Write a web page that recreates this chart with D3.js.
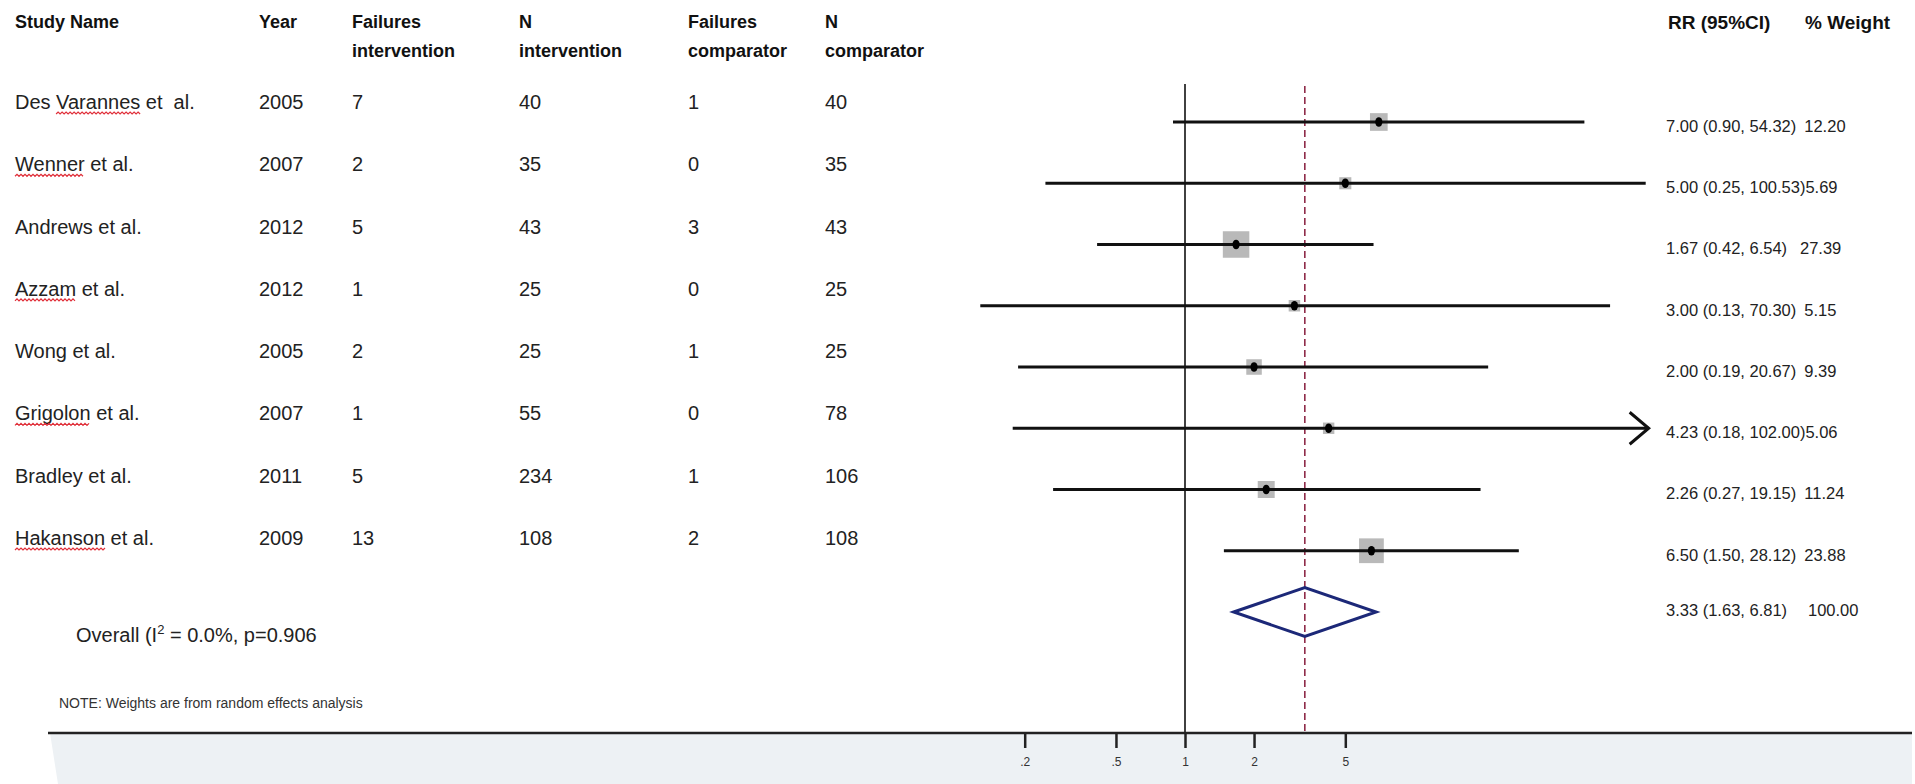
<!DOCTYPE html>
<html><head><meta charset="utf-8">
<script src="https://cdn.jsdelivr.net/npm/d3@7"></script>
<style>
html,body{margin:0;padding:0;background:#fff;}
svg{display:block;font-family:"Liberation Sans", Arial, sans-serif;}
text{white-space:pre;}
</style></head><body>
<svg id="chart" width="1915" height="784"></svg>
<script>
// ---- data ----
const studies = ["Des Varannes et  al.", "Wenner et al.", "Andrews et al.", "Azzam et al.", "Wong et al.", "Grigolon et al.", "Bradley et al.", "Hakanson et al."];
const flaggedWords = ["Varannes", "Wenner", null, "Azzam", null, "Grigolon", null, "Hakanson"];
const years = [2005, 2007, 2012, 2012, 2005, 2007, 2011, 2009];
const failuresIntervention = [7, 2, 5, 1, 2, 1, 5, 13];
const nIntervention = [40, 35, 43, 25, 25, 55, 234, 108];
const failuresComparator = [1, 0, 3, 0, 1, 0, 1, 2];
const nComparator = [40, 35, 43, 25, 25, 78, 106, 108];
const rr = [7.00, 5.00, 1.67, 3.00, 2.00, 4.23, 2.26, 6.50];
const ciLow = [0.90, 0.25, 0.42, 0.13, 0.19, 0.18, 0.27, 1.50];
const ciHigh = [54.32, 100.53, 6.54, 70.30, 20.67, 102.00, 19.15, 28.12];
const weights = [12.20, 5.69, 27.39, 5.15, 9.39, 5.06, 11.24, 23.88];
const overallEstimate = [3.33, 1.63, 6.81]; // RR, low, high
const overallWeight = 100.00;
const overallLabel = ["Overall (I", "2", " = 0.0%, p=0.906"];
const noteText = "NOTE: Weights are from random effects analysis";
const tickValues = [0.2, 0.5, 1, 2, 5];
const tickLabels = [".2", ".5", "1", "2", "5"];
const headerLines = [["Study Name"], ["Year"], ["Failures", "intervention"], ["N", "intervention"], ["Failures", "comparator"], ["N", "comparator"]];
const rightHeaders = ["RR (95%CI)", "% Weight"];
const axisClipMax = 101;

// ---- layout ----
const svg = d3.select("#chart");
const x = d3.scaleLog().domain([0.2, 5]).range([1024.7, 1345.3]);
const y = d3.scaleLinear().domain([0, 8]).range([122, 612]);
const yText = d3.scaleLinear().domain([0, 7]).range([102, 538]);
const boxSide = d3.scaleSqrt().domain([0, 27.39]).range([0, 26.5]);
const colX = [15, 259, 352, 519, 688, 825];
const axisY = 733;
const f2 = d3.format(".2f");
const textColor = "#222";

// background band below axis
svg.append("path")
  .attr("d", `M50,${axisY} L1912,${axisY} L1912,784 L58,784 Z`)
  .attr("fill", "#edf1f4");

// headers
headerLines.forEach((lines, c) => {
  lines.forEach((t, k) => {
    svg.append("text").attr("x", colX[c]).attr("y", 22 + k * 29).attr("dy", "0.35em")
      .attr("font-size", 18).attr("font-weight", "bold").attr("fill", "#111").text(t);
  });
});
svg.append("text").attr("x", 1668).attr("y", 22).attr("dy", "0.35em")
  .attr("font-size", 19).attr("font-weight", "bold").attr("fill", "#111").text(rightHeaders[0]);
svg.append("text").attr("x", 1805).attr("y", 22).attr("dy", "0.35em")
  .attr("font-size", 19).attr("font-weight", "bold").attr("fill", "#111").text(rightHeaders[1]);

// left table rows
const cols = [studies, years, failuresIntervention, nIntervention, failuresComparator, nComparator];
studies.forEach((s, i) => {
  cols.forEach((arr, c) => {
    const t = svg.append("text").attr("x", colX[c]).attr("y", yText(i)).attr("dy", "0.35em")
      .attr("font-size", 20).attr("fill", textColor).text(arr[i]);
    if (c === 0 && flaggedWords[i]) {
      const w = flaggedWords[i];
      const idx = s.indexOf(w);
      const node = t.node();
      const x0 = node.getStartPositionOfChar(idx).x;
      const x1 = node.getEndPositionOfChar(idx + w.length - 1).x;
      const yy = yText(i) + 12;
      let d = `M${x0},${yy}`;
      let up = true;
      for (let px = x0 + 2; px <= x1; px += 2) { d += ` L${px},${yy + (up ? -2 : 0)}`; up = !up; }
      svg.append("path").attr("d", d).attr("fill", "none").attr("stroke", "#e0303a").attr("stroke-width", 1.2);
    }
  });
});

// overall label
const ol = svg.append("text").attr("x", 76).attr("y", 635).attr("dy", "0.35em")
  .attr("font-size", 20).attr("fill", textColor);
ol.append("tspan").text(overallLabel[0]);
ol.append("tspan").attr("font-size", 13).attr("dy", "-0.6em").text(overallLabel[1]);
ol.append("tspan").attr("dy", "0.4em").text(overallLabel[2]);

// note
svg.append("text").attr("x", 59).attr("y", 703).attr("dy", "0.35em")
  .attr("font-size", 14).attr("fill", "#333").text(noteText);

// reference lines
svg.append("line").attr("x1", x(1)).attr("x2", x(1)).attr("y1", 84).attr("y2", axisY)
  .attr("stroke", "#111").attr("stroke-width", 1.6);
svg.append("line").attr("x1", x(overallEstimate[0])).attr("x2", x(overallEstimate[0])).attr("y1", 86).attr("y2", axisY)
  .attr("stroke", "#8e2a48").attr("stroke-width", 1.6).attr("stroke-dasharray", "7,4");

// boxes
svg.append("g").selectAll("rect").data(rr).join("rect")
  .attr("x", (d, i) => x(d) - boxSide(weights[i]) / 2)
  .attr("y", (d, i) => y(i) - boxSide(weights[i]) / 2)
  .attr("width", (d, i) => boxSide(weights[i]))
  .attr("height", (d, i) => boxSide(weights[i]))
  .attr("fill", "#b9b9b9");

// CI lines
svg.append("g").selectAll("line").data(rr).join("line")
  .attr("x1", (d, i) => x(ciLow[i]))
  .attr("x2", (d, i) => x(Math.min(ciHigh[i], axisClipMax)))
  .attr("y1", (d, i) => y(i)).attr("y2", (d, i) => y(i))
  .attr("stroke", "#111").attr("stroke-width", 3).attr("stroke-linecap", "square");

// arrows for truncated CIs
rr.forEach((d, i) => {
  if (ciHigh[i] > axisClipMax) {
    const xt = x(axisClipMax) + 4, yy = y(i);
    svg.append("path").attr("d", `M${xt - 19},${yy - 16} L${xt},${yy} L${xt - 19},${yy + 16}`)
      .attr("fill", "none").attr("stroke", "#111").attr("stroke-width", 3);
    svg.append("line").attr("x1", x(axisClipMax)).attr("x2", xt).attr("y1", yy).attr("y2", yy)
      .attr("stroke", "#111").attr("stroke-width", 3);
  }
});

// points
svg.append("g").selectAll("ellipse").data(rr).join("ellipse")
  .attr("cx", d => x(d)).attr("cy", (d, i) => y(i))
  .attr("rx", 3.6).attr("ry", 4.8).attr("fill", "#000");

// overall diamond
const yo = y(8);
svg.append("path")
  .attr("d", `M${x(overallEstimate[1])},${yo} L${x(overallEstimate[0])},${yo - 24.5} L${x(overallEstimate[2])},${yo} L${x(overallEstimate[0])},${yo + 24.5} Z`)
  .attr("fill", "none").attr("stroke", "#1c2878").attr("stroke-width", 3).attr("stroke-linejoin", "miter");

// right text
const rrX = 1666, weightCol = 1800, rFont = 16.5;
rr.forEach((d, i) => {
  const t = svg.append("text").attr("x", rrX).attr("y", y(i) + 4).attr("dy", "0.35em")
    .attr("font-size", rFont).attr("fill", textColor)
    .text(`${f2(d)} (${f2(ciLow[i])}, ${f2(ciHigh[i])})`);
  const end = rrX + t.node().getComputedTextLength();
  const wx = ciHigh[i] >= 100 ? end : Math.max(weightCol, end + 8);
  svg.append("text").attr("x", wx).attr("y", y(i) + 4).attr("dy", "0.35em")
    .attr("font-size", rFont).attr("fill", textColor).text(f2(weights[i]));
});
{
  const t = svg.append("text").attr("x", rrX).attr("y", yo - 2).attr("dy", "0.35em")
    .attr("font-size", rFont).attr("fill", textColor)
    .text(`${f2(overallEstimate[0])} (${f2(overallEstimate[1])}, ${f2(overallEstimate[2])})`);
  const end = rrX + t.node().getComputedTextLength();
  svg.append("text").attr("x", Math.max(weightCol + 8, end + 9)).attr("y", yo - 2).attr("dy", "0.35em")
    .attr("font-size", rFont).attr("fill", textColor).text(f2(overallWeight));
}

// axis
svg.append("line").attr("x1", 48).attr("x2", 1912).attr("y1", axisY).attr("y2", axisY)
  .attr("stroke", "#222").attr("stroke-width", 2.5);
const axis = d3.axisBottom(x).tickValues(tickValues).tickFormat((d, i) => tickLabels[i])
  .tickSize(15).tickPadding(9);
const ag = svg.append("g").attr("transform", `translate(0,${axisY})`).call(axis);
ag.select(".domain").remove();
ag.selectAll(".tick line").attr("stroke", "#222").attr("stroke-width", 2.5);
ag.selectAll(".tick text").attr("font-size", 12).attr("fill", "#333")
  .attr("font-family", '"Liberation Sans", Arial, sans-serif');
</script>
</body></html>
